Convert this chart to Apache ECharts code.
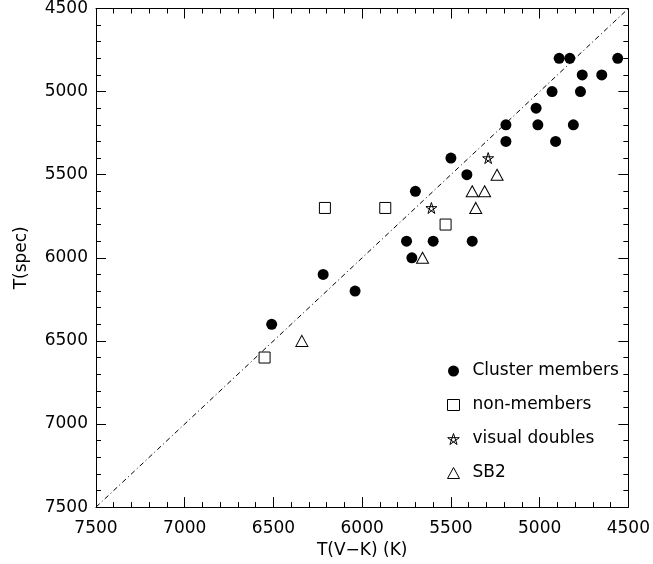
<!DOCTYPE html>
<html>
<head>
<meta charset="utf-8">
<script src="https://cdn.jsdelivr.net/npm/echarts@6/dist/echarts.min.js"></script>
<style>html,body{margin:0;padding:0;background:#fff}#c{width:653px;height:564px}</style>
</head>
<body>
<div id="c"></div>
<script>
var seriesNames = ['Cluster members', 'non-members', 'visual doubles', 'SB2'];
var memberX = [4890,4830,4560,4760,4650,4930,4770,5020,5190,5010,4810,5190,4910,5500,5410,5700,5750,5600,5380,5720,6220,6040,6510];
var memberY = [4800,4800,4800,4900,4900,5000,5000,5100,5200,5200,5200,5300,5300,5400,5500,5600,5900,5900,5900,6000,6100,6200,6400];
var nonX = [6210,5870,5530,6550];
var nonY = [5700,5700,5800,6600];
var visX = [5290,5610];
var visY = [5400,5700];
var sb2X = [5240,5380,5310,5360,5660,6340];
var sb2Y = [5500,5600,5600,5700,6000,6500];
var diagX = [7500,4500];
var diagY = [7500,4500];
var axisTicks = [4500,5000,5500,6000,6500,7000,7500];

function pairs(xs, ys){ return xs.map(function(x,i){ return [x, ys[i]]; }); }

var FONT = 'DejaVu Sans';
var starPath = 'path://M0,-10 L5.88,8.09 L-9.51,-3.09 L9.51,-3.09 L-5.88,8.09 Z';
var fmt = function(v){ return String(v); };

function baseAxis(extra){
  var a = {
    type: 'value', min: axisTicks[0], max: axisTicks[axisTicks.length-1], interval: 500,
    inverse: true,
    axisLine: {show: true, onZero: false, lineStyle: {color: '#000', width: 1}},
    axisTick: {show: true, inside: true, length: 10, lineStyle: {color: '#000', width: 1}},
    minorTick: {show: true, splitNumber: 5, length: 5, lineStyle: {color: '#000', width: 1}},
    splitLine: {show: false},
    axisLabel: {show: true, color: '#000', fontFamily: FONT, fontSize: 17, formatter: fmt}
  };
  for (var k in extra) a[k] = extra[k];
  return a;
}

var styles = [
  {color: '#000', opacity: 1},
  {color: '#fff', borderColor: '#000', borderWidth: 1, opacity: 1},
  {color: 'rgba(0,0,0,0)', borderColor: '#000', borderWidth: 1, opacity: 1},
  {color: '#fff', borderColor: '#000', borderWidth: 1, opacity: 1}
];

var chart = echarts.init(document.getElementById('c'), null, {renderer: 'canvas'});
chart.setOption({
  animation: false,
  backgroundColor: '#fff',
  grid: {left: 96, right: 22, top: 6, bottom: 55, containLabel: false},
  xAxis: [
    baseAxis({position: 'bottom', name: 'T(V\u2212K) (K)', nameLocation: 'middle', nameGap: 33,
      nameTextStyle: {color: '#000', fontFamily: FONT, fontSize: 17},
      axisLabel: {show: true, color: '#000', fontFamily: FONT, fontSize: 17, margin: 13, formatter: fmt}}),
    baseAxis({position: 'top', axisLabel: {show: false}})
  ],
  yAxis: [
    baseAxis({position: 'left', name: 'T(spec)', nameLocation: 'middle', nameGap: 66,
      nameTextStyle: {color: '#000', fontFamily: FONT, fontSize: 17},
      axisLabel: {show: true, color: '#000', fontFamily: FONT, fontSize: 17, margin: 8, formatter: fmt}}),
    baseAxis({position: 'right', axisLabel: {show: false}})
  ],
  legend: {
    data: seriesNames.map(function(n, i){ return {name: n, itemStyle: styles[i]}; }),
    orient: 'vertical',
    left: 442, top: 356,
    itemWidth: 12, itemHeight: 11,
    itemGap: 14,
    textStyle: {color: '#000', fontFamily: FONT, fontSize: 17, lineHeight: 20, padding: [0,0,0,8]}
  },
  series: [
    {
      type: 'line', name: 'diag', data: pairs(diagX, diagY), symbol: 'none', silent: true,
      lineStyle: {color: '#000', width: 1, type: [5,3,1,3]}, z: 1
    },
    {
      type: 'scatter', name: seriesNames[0], data: pairs(memberX, memberY),
      symbol: 'circle', symbolSize: 11, itemStyle: styles[0]
    },
    {
      type: 'scatter', name: seriesNames[1], data: pairs(nonX, nonY),
      symbol: 'rect', symbolSize: 11, itemStyle: styles[1]
    },
    {
      type: 'scatter', name: seriesNames[2], data: pairs(visX, visY),
      symbol: starPath, symbolSize: 11, itemStyle: styles[2]
    },
    {
      type: 'scatter', name: seriesNames[3], data: pairs(sb2X, sb2Y),
      symbol: 'triangle', symbolSize: [12, 11], itemStyle: styles[3]
    }
  ]
});
</script>
</body>
</html>
